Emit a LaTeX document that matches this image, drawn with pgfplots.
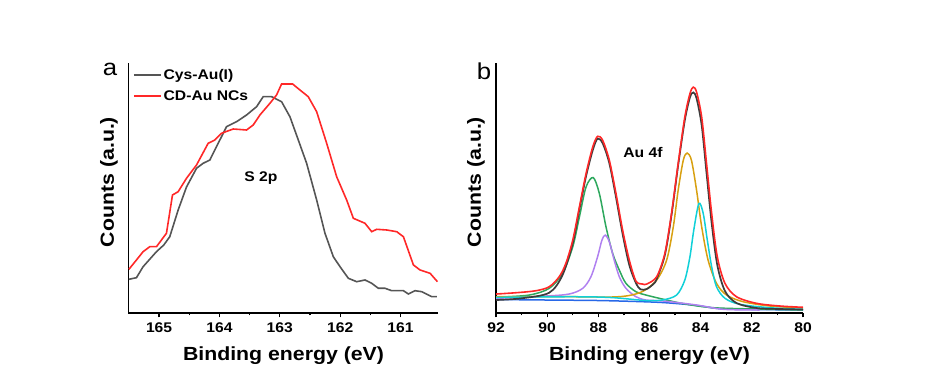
\documentclass[border=0pt]{standalone}
\usepackage{fontspec}
\setmainfont{Liberation Sans}[FakeStretch=1.12]
\usepackage{pgfplots}
\pgfplotsset{compat=1.18}
\definecolor{cgray}{RGB}{85,85,85}
\definecolor{cred}{RGB}{255,40,40}
\definecolor{cblack}{RGB}{60,60,60}
\definecolor{cgreen}{RGB}{46,168,94}
\definecolor{cpurple}{RGB}{176,128,240}
\definecolor{cyellow}{RGB}{216,160,16}
\definecolor{ccyan}{RGB}{16,208,216}
\definecolor{cblue}{RGB}{40,104,232}
\pgfplotsset{
  myaxis/.style={
    scale only axis, height=249.5pt,
    axis x line*=bottom, axis y line*=left,
    axis line style={line width=1.5pt,-},
    x dir=reverse, ytick=\empty, ymin=0,
    tick align=outside, major tick length=4.5pt, minor tick length=2.5pt,
    every tick/.style={line width=1.2pt,black},
    minor x tick num=1,
    /pgf/number format/assume math mode=true,
    xticklabel style={font=\fontsize{14}{14}\selectfont\bfseries, yshift=-1.5pt},
  }
}
\begin{document}
\begin{tikzpicture}[x=1pt,y=1pt]
\path[use as bounding box] (0,0) rectangle (928,385);
\begin{axis}[myaxis, at={(128.3pt,72pt)}, anchor=south west, width=309.7pt,
  xmin=160.38, xmax=165.51, ymax=249.5, xtick={161,162,163,164,165},
  legend style={draw=none, fill=none, at={(axis description cs:0.005,0.995)}, anchor=north west,
    font=\fontsize{14}{14}\selectfont\bfseries, row sep=6pt},
  legend image code/.code={\draw[#1] (0pt,0pt) -- (27pt,0pt);},
  legend cell align=left]
\addplot[cgray, line width=1.6pt] coordinates {
(165.50,33.7) (165.375,35.3) (165.265,46.3) (165.044,61.3) (164.922,68) (164.823,76.3)
(164.684,103) (164.546,126) (164.380,144.7) (164.270,149.7) (164.159,153) (164.049,166.3)
(163.883,186.3) (163.717,191.3) (163.551,198) (163.385,206.3) (163.275,216.3) (163.136,216.3)
(162.971,211.3) (162.833,196.3) (162.694,173) (162.556,149.7) (162.39,113) (162.252,79.7)
(162.114,56.3) (162.003,46.3) (161.865,34.7) (161.727,31.3) (161.589,33) (161.478,29.7)
(161.368,24.7) (161.257,24.7) (161.146,22.3) (160.953,22.3) (160.870,19) (160.760,22.3)
(160.649,21.3) (160.483,16.3) (160.400,16.3)};
\addlegendentry{Cys-Au(I)}
\addplot[cred, line width=1.6pt] coordinates {
(165.50,43.7) (165.375,53) (165.265,61.3) (165.154,66.3) (165.044,66.3) (164.878,79.7)
(164.778,118) (164.684,121.3) (164.546,134.7) (164.380,148) (164.187,169.7) (164.076,173)
(163.966,179.7) (163.772,184) (163.551,183) (163.441,188) (163.330,198) (163.164,209.7)
(163.054,218) (162.971,229) (162.788,229) (162.667,223) (162.529,216.3) (162.390,201.3)
(162.224,169.7) (162.059,136.3) (161.893,113) (161.782,94.7) (161.589,89.7) (161.478,81.3)
(161.395,83.7) (161.229,83) (161.063,81.3) (160.953,76.3) (160.787,48) (160.677,43)
(160.511,39.7) (160.389,31.3)};
\addlegendentry{CD-Au NCs}
\end{axis}

\begin{axis}[myaxis, at={(496pt,72pt)}, anchor=south west, width=307pt,
  xmin=80, xmax=92, ymax=250, xtick={80,82,...,92}]
\addplot[cblue, line width=1.5pt, smooth] coordinates {
(92,13.5) (90,13) (88,12.5) (86.5,11.5) (85.5,10.5) (84.5,8.5) (84,7) (83.5,5) (83,4) (82,3.5) (80,3)};
\addplot[cgreen, line width=1.5pt, smooth] coordinates {
(92,15.7) (90.7,18) (89.92,24.7) (89.4,39.7) (89.0,66.3) (88.74,96.3) (88.48,126.3) (88.2,135.7)
(87.96,119.7) (87.70,86.3) (87.44,59.7) (87.18,43) (86.92,29.7) (86.53,21.3) (86.14,18)
(85.5,14) (84.81,10) (83.91,6.3) (83.0,4.7) (80,3)};
\addplot[cpurple, line width=1.5pt, smooth] coordinates {
(92,14.7) (90.05,17) (89.14,19) (88.61,24.7) (88.29,36.3) (88.03,56.3) (87.86,73) (87.73,78)
(87.57,71.3) (87.38,53) (87.18,36.3) (86.92,24.7) (86.53,16.3) (86.14,13) (85.46,12)
(84.16,8) (83.12,3.7) (81.7,3)};
\addplot[cyellow, line width=1.5pt, smooth] coordinates {
(92,16.5) (89,16.3) (87.5,16) (86.8,17.5) (86.24,22) (85.72,33) (85.33,53) (85.07,86.3)
(84.88,123) (84.68,153) (84.53,160.3) (84.36,153) (84.16,123) (83.96,86.3) (83.71,53)
(83.38,29.7) (82.99,18) (82.34,11.3) (81.30,7) (80,5)};
\addplot[ccyan, line width=1.5pt, smooth] coordinates {
(92,15.7) (89,16.3) (87.5,15.5) (86.14,12.5) (85.5,13) (84.94,18) (84.62,33) (84.42,56.3)
(84.27,83) (84.07,109.7) (83.90,99.7) (83.74,73) (83.57,46.3) (83.38,26.3) (83.05,14.7)
(82.47,8.7) (81.30,5.3) (80,3.7)};
\addplot[cblack, line width=1.7pt, smooth] coordinates {
(92,13) (91.0,14.7) (89.92,20.3) (89.4,38) (89.0,70) (88.74,104) (88.48,137) (88.22,163)
(88.03,174.7) (87.83,170) (87.57,150) (87.31,116) (87.05,79) (86.79,48) (86.53,30)
(86.35,23.7) (86.11,24) (85.85,29) (85.72,34) (85.40,58) (85.14,98) (84.88,148)
(84.62,193) (84.42,216) (84.29,221) (84.16,215) (83.96,188) (83.77,140) (83.57,90)
(83.35,48) (83.05,22) (82.60,10) (81.82,5) (80.91,4) (80,3.5)};
\addplot[cred, line width=1.6pt, smooth] coordinates {
(92,19) (91.22,20.3) (90.44,22.3) (89.92,26.3) (89.53,36.3) (89.27,49.7) (89.0,73)
(88.74,106.3) (88.48,139.7) (88.22,166.3) (88.03,177) (87.83,173) (87.57,153) (87.31,119.7)
(87.05,83) (86.79,53) (86.53,32) (86.27,29) (86.11,29) (85.72,36.3) (85.40,59.7)
(85.14,99.7) (84.88,149.7) (84.62,196.3) (84.42,219.7) (84.29,226.3) (84.16,221.3)
(83.96,196.3) (83.77,149.7) (83.57,99.7) (83.35,56.3) (83.05,29.7) (82.60,16.3)
(81.82,9.7) (80.91,7) (80,5.7)};
\end{axis}

\node[font=\fontsize{23}{23}\selectfont, anchor=base] at (110,309.3) {a};
\node[font=\fontsize{23}{23}\selectfont, anchor=base] at (484,305) {b};
\node[font=\fontsize{19}{19}\selectfont\bfseries, rotate=90] at (109,203) {Counts (a.u.)};
\node[font=\fontsize{19}{19}\selectfont\bfseries, rotate=90] at (476,203) {Counts (a.u.)};
\node[font=\fontsize{19}{19}\selectfont\bfseries, anchor=base] at (283.5,24.3) {Binding energy (eV)};
\node[font=\fontsize{19}{19}\selectfont\bfseries, anchor=base] at (649.5,24) {Binding energy (eV)};
\node[font=\fontsize{14}{14}\selectfont\bfseries] at (261,207) {S 2p};
\node[font=\fontsize{14}{14}\selectfont\bfseries] at (643,233) {Au 4f};
\end{tikzpicture}
\end{document}
